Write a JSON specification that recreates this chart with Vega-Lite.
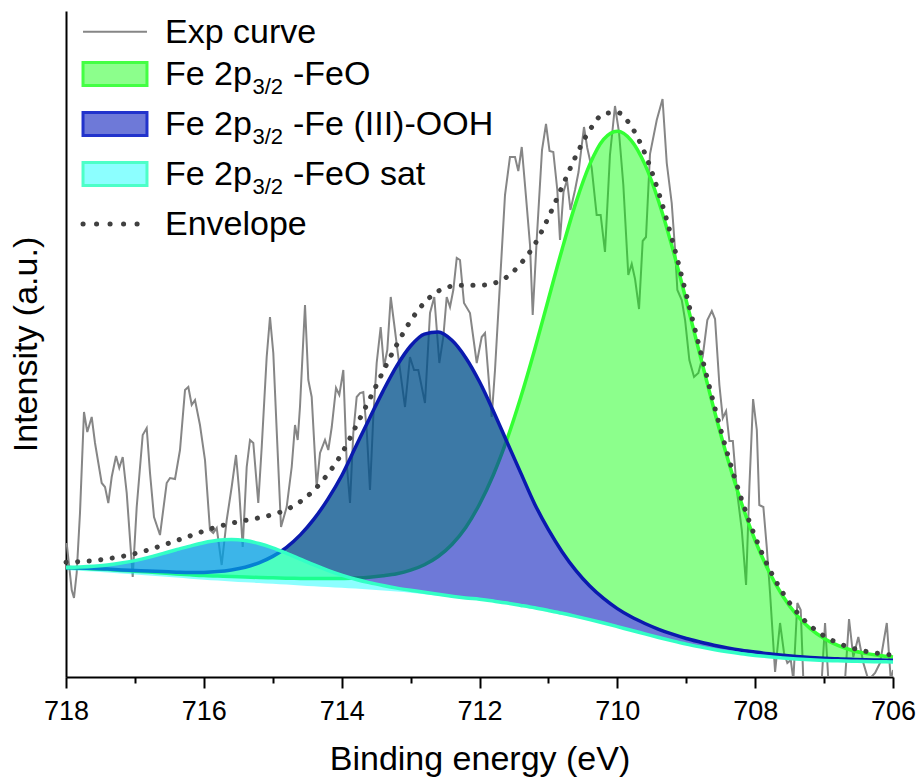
{
"$schema": "https://vega.github.io/schema/vega-lite/v6.json",
"width": 827, "height": 666,
"autosize": "none",
"padding": {"left": 66, "top": 11, "right": 26, "bottom": 106},
"background": "white",
"config": {"view": {"stroke": null}, "axis": {"labelFont": "Liberation Sans", "titleFont": "Liberation Sans", "labelColor": "black", "titleColor": "black", "domainColor": "black", "tickColor": "black", "titleFontWeight": "normal", "grid": false}, "text": {"font": "Liberation Sans"}},
"datasets": {
"exp": [
{"E":717.990,"h":134},{"E":717.917,"h":87},{"E":717.884,"h":79},{"E":717.845,"h":104},{"E":717.797,"h":164},{"E":717.739,"h":265},{"E":717.691,"h":245},{"E":717.627,"h":260},{"E":717.579,"h":234},{"E":717.482,"h":194},{"E":717.434,"h":190},{"E":717.386,"h":174},{"E":717.337,"h":200},{"E":717.274,"h":221},{"E":717.227,"h":209},{"E":717.177,"h":220},{"E":717.119,"h":184},{"E":717.032,"h":100},{"E":716.974,"h":170},{"E":716.887,"h":242},{"E":716.829,"h":249},{"E":716.781,"h":204},{"E":716.723,"h":160},{"E":716.636,"h":142},{"E":716.539,"h":194},{"E":716.491,"h":199},{"E":716.418,"h":198},{"E":716.346,"h":227},{"E":716.273,"h":287},{"E":716.225,"h":290},{"E":716.176,"h":272},{"E":716.128,"h":277},{"E":716.056,"h":252},{"E":715.983,"h":217},{"E":715.911,"h":147},{"E":715.863,"h":144},{"E":715.813,"h":149},{"E":715.741,"h":112},{"E":715.668,"h":157},{"E":715.596,"h":190},{"E":715.533,"h":222},{"E":715.485,"h":184},{"E":715.436,"h":130},{"E":715.378,"h":210},{"E":715.330,"h":237},{"E":715.282,"h":234},{"E":715.210,"h":174},{"E":715.160,"h":230},{"E":715.088,"h":320},{"E":715.040,"h":360},{"E":714.992,"h":324},{"E":714.943,"h":247},{"E":714.880,"h":150},{"E":714.798,"h":170},{"E":714.725,"h":210},{"E":714.677,"h":252},{"E":714.638,"h":237},{"E":714.605,"h":270},{"E":714.532,"h":372},{"E":714.484,"h":297},{"E":714.435,"h":280},{"E":714.363,"h":190},{"E":714.314,"h":224},{"E":714.242,"h":237},{"E":714.194,"h":227},{"E":714.144,"h":250},{"E":714.082,"h":289},{"E":714.034,"h":282},{"E":713.976,"h":307},{"E":713.927,"h":214},{"E":713.879,"h":174},{"E":713.831,"h":244},{"E":713.782,"h":280},{"E":713.734,"h":284},{"E":713.686,"h":285},{"E":713.637,"h":247},{"E":713.589,"h":187},{"E":713.541,"h":260},{"E":713.492,"h":314},{"E":713.434,"h":350},{"E":713.386,"h":310},{"E":713.338,"h":327},{"E":713.288,"h":380},{"E":713.240,"h":354},{"E":713.178,"h":320},{"E":713.081,"h":270},{"E":713.009,"h":320},{"E":712.950,"h":307},{"E":712.888,"h":307},{"E":712.791,"h":274},{"E":712.718,"h":364},{"E":712.656,"h":380},{"E":712.583,"h":314},{"E":712.525,"h":340},{"E":712.476,"h":380},{"E":712.428,"h":370},{"E":712.380,"h":387},{"E":712.330,"h":419},{"E":712.283,"h":417},{"E":712.225,"h":374},{"E":712.138,"h":364},{"E":712.040,"h":314},{"E":711.968,"h":340},{"E":711.920,"h":344},{"E":711.823,"h":260},{"E":711.775,"h":307},{"E":711.630,"h":482},{"E":711.558,"h":520},{"E":711.485,"h":520},{"E":711.437,"h":506},{"E":711.387,"h":530},{"E":711.325,"h":480},{"E":711.267,"h":432},{"E":711.228,"h":362},{"E":711.170,"h":437},{"E":711.093,"h":527},{"E":711.035,"h":553},{"E":710.984,"h":526},{"E":710.929,"h":525},{"E":710.871,"h":487},{"E":710.832,"h":437},{"E":710.781,"h":485},{"E":710.730,"h":497},{"E":710.680,"h":467},{"E":710.614,"h":487},{"E":710.563,"h":505},{"E":710.484,"h":550},{"E":710.436,"h":529},{"E":710.372,"h":509},{"E":710.300,"h":462},{"E":710.242,"h":462},{"E":710.179,"h":425},{"E":710.107,"h":522},{"E":710.034,"h":571},{"E":709.976,"h":545},{"E":709.913,"h":492},{"E":709.841,"h":402},{"E":709.791,"h":413},{"E":709.743,"h":398},{"E":709.685,"h":368},{"E":709.632,"h":436},{"E":709.584,"h":440},{"E":709.526,"h":523},{"E":709.428,"h":557},{"E":709.344,"h":578},{"E":709.283,"h":514},{"E":709.211,"h":474},{"E":709.162,"h":427},{"E":709.129,"h":387},{"E":709.065,"h":377},{"E":709.017,"h":357},{"E":708.955,"h":317},{"E":708.887,"h":300},{"E":708.824,"h":304},{"E":708.760,"h":321},{"E":708.694,"h":357},{"E":708.629,"h":366},{"E":708.582,"h":358},{"E":708.519,"h":292},{"E":708.470,"h":259},{"E":708.422,"h":266},{"E":708.374,"h":236},{"E":708.324,"h":236},{"E":708.266,"h":187},{"E":708.194,"h":147},{"E":708.132,"h":92},{"E":708.084,"h":190},{"E":708.030,"h":278},{"E":707.976,"h":247},{"E":707.940,"h":172},{"E":707.881,"h":170},{"E":707.832,"h":130},{"E":707.784,"h":84},{"E":707.711,"h":5},{"E":707.639,"h":54},{"E":707.581,"h":24},{"E":707.533,"h":14},{"E":707.483,"h":17},{"E":707.446,"h":-3},{"E":707.388,"h":74},{"E":707.339,"h":67},{"E":707.301,"h":-3},{"E":707.175,"h":-8},{"E":707.034,"h":-3},{"E":706.986,"h":54},{"E":706.938,"h":-3},{"E":706.826,"h":-8},{"E":706.696,"h":-3},{"E":706.638,"h":58},{"E":706.576,"h":20},{"E":706.503,"h":40},{"E":706.430,"h":14},{"E":706.357,"h":-3},{"E":706.260,"h":4},{"E":706.188,"h":14},{"E":706.090,"h":54},{"E":706.032,"h":-3},{"E":705.999,"h":7}
],
"fit": [
{"E":706.0,"bg":15.0,"feo":20.1,"ooh":16.7,"sat":15.1,"env":21.9},
{"E":706.2,"bg":15.1,"feo":21.5,"ooh":17.0,"sat":15.2,"env":23.5},
{"E":706.4,"bg":15.3,"feo":23.6,"ooh":17.3,"sat":15.4,"env":25.7},
{"E":706.6,"bg":15.6,"feo":26.8,"ooh":17.7,"sat":15.8,"env":29.1},
{"E":706.8,"bg":16.0,"feo":31.6,"ooh":18.2,"sat":16.2,"env":34.0},
{"E":707.0,"bg":16.4,"feo":38.5,"ooh":18.8,"sat":16.6,"env":41.1},
{"E":707.2,"bg":17.0,"feo":48.4,"ooh":19.6,"sat":17.2,"env":51.2},
{"E":707.4,"bg":17.8,"feo":62.2,"ooh":20.6,"sat":18.0,"env":65.2},
{"E":707.6,"bg":18.8,"feo":81.0,"ooh":21.8,"sat":19.0,"env":84.2},
{"E":707.8,"bg":20.0,"feo":105.5,"ooh":23.2,"sat":20.2,"env":108.9},
{"E":708.0,"bg":21.4,"feo":136.5,"ooh":24.9,"sat":21.6,"env":140.2},
{"E":708.2,"bg":23.0,"feo":174.2,"ooh":26.8,"sat":23.2,"env":178.2},
{"E":708.4,"bg":25.0,"feo":218.5,"ooh":29.1,"sat":25.2,"env":222.8},
{"E":708.6,"bg":27.2,"feo":268.3,"ooh":31.8,"sat":27.5,"env":273.2},
{"E":708.8,"bg":29.8,"feo":321.9,"ooh":35.0,"sat":30.1,"env":327.4},
{"E":709.0,"bg":32.6,"feo":376.4,"ooh":38.5,"sat":32.9,"env":382.6},
{"E":709.2,"bg":35.8,"feo":428.9,"ooh":42.8,"sat":36.1,"env":436.2},
{"E":709.4,"bg":39.2,"feo":475.5,"ooh":47.7,"sat":39.5,"env":484.3},
{"E":709.6,"bg":42.8,"feo":512.6,"ooh":53.5,"sat":43.1,"env":523.6},
{"E":709.8,"bg":46.4,"feo":536.7,"ooh":60.2,"sat":46.7,"env":550.8},
{"E":710.0,"bg":50.0,"feo":545.8,"ooh":68.4,"sat":50.4,"env":564.6},
{"E":710.2,"bg":53.6,"feo":537.6,"ooh":78.6,"sat":54.0,"env":563.0},
{"E":710.4,"bg":57.0,"feo":512.6,"ooh":91.0,"sat":57.4,"env":547.0},
{"E":710.6,"bg":60.2,"feo":474.6,"ooh":106.4,"sat":60.6,"env":521.2},
{"E":710.8,"bg":63.2,"feo":428.1,"ooh":125.1,"sat":63.7,"env":490.5},
{"E":711.0,"bg":66.0,"feo":377.8,"ooh":147.3,"sat":66.5,"env":459.6},
{"E":711.2,"bg":68.6,"feo":327.3,"ooh":173.1,"sat":69.2,"env":432.4},
{"E":711.4,"bg":71.0,"feo":280.0,"ooh":203.9,"sat":71.6,"env":413.5},
{"E":711.6,"bg":73.2,"feo":237.8,"ooh":234.9,"sat":73.9,"env":400.2},
{"E":711.8,"bg":75.2,"feo":202.0,"ooh":266.1,"sat":75.9,"env":393.6},
{"E":712.0,"bg":77.0,"feo":172.8,"ooh":295.2,"sat":77.8,"env":391.8},
{"E":712.2,"bg":78.0,"feo":149.5,"ooh":319.3,"sat":79.0,"env":391.8},
{"E":712.4,"bg":79.6,"feo":132.5,"ooh":336.7,"sat":80.8,"env":390.8},
{"E":712.6,"bg":81.2,"feo":120.5,"ooh":345.0,"sat":82.7,"env":385.8},
{"E":712.8,"bg":82.8,"feo":112.3,"ooh":342.9,"sat":84.7,"env":374.3},
{"E":713.0,"bg":84.2,"feo":106.8,"ooh":331.0,"sat":86.7,"env":356.1},
{"E":713.2,"bg":85.4,"feo":103.2,"ooh":311.1,"sat":88.9,"env":332.4},
{"E":713.4,"bg":86.6,"feo":101.2,"ooh":285.9,"sat":91.5,"env":305.4},
{"E":713.6,"bg":87.6,"feo":99.8,"ooh":258.1,"sat":94.4,"env":277.1},
{"E":713.8,"bg":88.4,"feo":99.0,"ooh":229.7,"sat":97.8,"env":249.7},
{"E":714.0,"bg":89.2,"feo":98.5,"ooh":201.3,"sat":101.9,"env":223.3},
{"E":714.2,"bg":90.0,"feo":98.4,"ooh":177.9,"sat":106.7,"env":203.0},
{"E":714.4,"bg":90.8,"feo":98.4,"ooh":158.1,"sat":112.1,"env":187.0},
{"E":714.6,"bg":91.6,"feo":98.6,"ooh":142.1,"sat":117.9,"env":175.4},
{"E":714.8,"bg":92.4,"feo":98.8,"ooh":129.7,"sat":123.7,"env":167.4},
{"E":715.0,"bg":93.2,"feo":99.2,"ooh":120.6,"sat":129.1,"env":162.5},
{"E":715.2,"bg":94.0,"feo":99.5,"ooh":114.2,"sat":133.5,"env":159.2},
{"E":715.4,"bg":94.8,"feo":100.0,"ooh":109.8,"sat":136.4,"env":156.6},
{"E":715.6,"bg":95.6,"feo":100.4,"ooh":107.1,"sat":137.5,"env":153.8},
{"E":715.8,"bg":96.4,"feo":100.9,"ooh":105.4,"sat":136.7,"env":150.2},
{"E":716.0,"bg":97.2,"feo":101.4,"ooh":104.6,"sat":134.3,"env":145.9},
{"E":716.2,"bg":98.2,"feo":102.2,"ooh":104.4,"sat":130.9,"env":141.1},
{"E":716.4,"bg":99.4,"feo":103.1,"ooh":104.8,"sat":127.2,"env":136.3},
{"E":716.6,"bg":100.6,"feo":104.1,"ooh":105.4,"sat":123.4,"env":131.7},
{"E":716.8,"bg":101.6,"feo":104.9,"ooh":105.9,"sat":119.6,"env":127.2},
{"E":717.0,"bg":102.6,"feo":105.7,"ooh":106.5,"sat":116.4,"env":123.4},
{"E":717.2,"bg":103.6,"feo":106.6,"ooh":107.1,"sat":113.9,"env":120.4},
{"E":717.4,"bg":104.6,"feo":107.4,"ooh":107.9,"sat":112.1,"env":118.2},
{"E":717.6,"bg":105.4,"feo":108.1,"ooh":108.4,"sat":110.8,"env":116.5},
{"E":717.8,"bg":106.2,"feo":108.7,"ooh":109.0,"sat":110.1,"env":115.4},
{"E":718.0,"bg":107.0,"feo":109.4,"ooh":109.6,"sat":109.8,"env":114.8}
]
},
"layer": [
{"data": {"name": "exp"}, "mark": {"type": "line", "color": "#868686", "strokeWidth": 2, "clip": true},
 "encoding": {
  "x": {"field": "E", "type": "quantitative", "scale": {"domain": [706, 718], "reverse": true, "nice": false, "zero": false},
        "axis": {"title": "Binding energy (eV)", "values": [718,717,716,715,714,713,712,711,710,709,708,707,706], "format": "d",
                 "labelExpr": "datum.value % 2 == 0 ? datum.label : ''",
                 "tickSize": {"condition": {"test": "datum.value % 2 == 0", "value": 11}, "value": 6},
                 "tickWidth": 2, "domainWidth": 2, "labelFontSize": 27, "labelPadding": 10, "labelFlush": false, "labelOverlap": false,
                 "titleFontSize": 34, "titlePadding": 18}},
  "y": {"field": "h", "type": "quantitative", "scale": {"domain": [0, 666], "nice": false, "zero": false},
        "axis": {"title": "Intensity (a.u.)", "ticks": false, "labels": false, "domainWidth": 2, "titleFontSize": 34, "titlePadding": 23}}
 }},
{"data": {"name": "fit"}, "mark": {"type": "area", "interpolate": "monotone", "color": "#00ff00", "fillOpacity": 0.45},
 "encoding": {"x": {"field": "E", "type": "quantitative"}, "y": {"field": "feo", "type": "quantitative"}, "y2": {"field": "ooh"}}},
{"data": {"name": "fit"}, "mark": {"type": "line", "interpolate": "monotone", "color": "#33ff33", "strokeWidth": 3.5},
 "encoding": {"x": {"field": "E", "type": "quantitative"}, "y": {"field": "feo", "type": "quantitative"}}},
{"data": {"name": "fit"}, "mark": {"type": "area", "interpolate": "monotone", "color": "#0014ba", "fillOpacity": 0.57},
 "encoding": {"x": {"field": "E", "type": "quantitative"}, "y": {"field": "ooh", "type": "quantitative"}, "y2": {"field": "sat"}}},
{"data": {"name": "fit"}, "mark": {"type": "line", "interpolate": "monotone", "color": "#0a1aae", "strokeWidth": 3.5},
 "encoding": {"x": {"field": "E", "type": "quantitative"}, "y": {"field": "ooh", "type": "quantitative"}}},
{"data": {"name": "fit"}, "mark": {"type": "area", "interpolate": "monotone", "color": "#00ffff", "fillOpacity": 0.45},
 "encoding": {"x": {"field": "E", "type": "quantitative"}, "y": {"field": "sat", "type": "quantitative"}, "y2": {"field": "bg"}}},
{"data": {"name": "fit"}, "mark": {"type": "line", "interpolate": "monotone", "color": "#33ffc6", "strokeWidth": 3.5},
 "encoding": {"x": {"field": "E", "type": "quantitative"}, "y": {"field": "sat", "type": "quantitative"}}},
{"data": {"name": "fit"}, "mark": {"type": "line", "interpolate": "monotone", "color": "#404040", "strokeWidth": 5, "strokeCap": "round", "strokeDash": [0.1, 11.5]},
 "encoding": {"x": {"field": "E", "type": "quantitative"}, "y": {"field": "env", "type": "quantitative"}}},

{"data": {"values": [{}]}, "mark": {"type": "rule", "color": "#868686", "strokeWidth": 2},
 "encoding": {"x": {"datum": 717.753}, "x2": {"datum": 716.825}, "y": {"datum": 645.3}}},
{"data": {"values": [{}]}, "mark": {"type": "text", "text": "Exp curve", "align": "left", "baseline": "alphabetic", "fontSize": 34, "color": "black"},
 "encoding": {"x": {"datum": 716.5636}, "y": {"datum": 633.7}}},

{"data": {"values": [{}]}, "mark": {"type": "rect", "fill": "#00ff00", "fillOpacity": 0.45, "stroke": "#44ff44", "strokeWidth": 3},
 "encoding": {"x": {"datum": 717.753}, "x2": {"datum": 716.825}, "y": {"datum": 614.5}, "y2": {"datum": 591.5}}},
{"data": {"values": [{}]}, "mark": {"type": "text", "text": "Fe 2p", "align": "left", "baseline": "alphabetic", "fontSize": 34, "color": "black"},
 "encoding": {"x": {"datum": 716.5636}, "y": {"datum": 592}}},
{"data": {"values": [{}]}, "mark": {"type": "text", "text": "3/2", "align": "left", "baseline": "alphabetic", "fontSize": 22, "color": "black"},
 "encoding": {"x": {"datum": 715.294}, "y": {"datum": 583}}},
{"data": {"values": [{}]}, "mark": {"type": "text", "text": "-FeO", "align": "left", "baseline": "alphabetic", "fontSize": 34, "color": "black"},
 "encoding": {"x": {"datum": 714.706}, "y": {"datum": 592}}},

{"data": {"values": [{}]}, "mark": {"type": "rect", "fill": "#0014ba", "fillOpacity": 0.57, "stroke": "#2233cc", "strokeWidth": 3},
 "encoding": {"x": {"datum": 717.753}, "x2": {"datum": 716.825}, "y": {"datum": 564.5}, "y2": {"datum": 541.5}}},
{"data": {"values": [{}]}, "mark": {"type": "text", "text": "Fe 2p", "align": "left", "baseline": "alphabetic", "fontSize": 34, "color": "black"},
 "encoding": {"x": {"datum": 716.5636}, "y": {"datum": 542}}},
{"data": {"values": [{}]}, "mark": {"type": "text", "text": "3/2", "align": "left", "baseline": "alphabetic", "fontSize": 22, "color": "black"},
 "encoding": {"x": {"datum": 715.294}, "y": {"datum": 533}}},
{"data": {"values": [{}]}, "mark": {"type": "text", "text": "-Fe (III)-OOH", "align": "left", "baseline": "alphabetic", "fontSize": 34, "color": "black"},
 "encoding": {"x": {"datum": 714.706}, "y": {"datum": 542}}},

{"data": {"values": [{}]}, "mark": {"type": "rect", "fill": "#00ffff", "fillOpacity": 0.45, "stroke": "#4dffc8", "strokeWidth": 3},
 "encoding": {"x": {"datum": 717.753}, "x2": {"datum": 716.825}, "y": {"datum": 514.5}, "y2": {"datum": 491.5}}},
{"data": {"values": [{}]}, "mark": {"type": "text", "text": "Fe 2p", "align": "left", "baseline": "alphabetic", "fontSize": 34, "color": "black"},
 "encoding": {"x": {"datum": 716.5636}, "y": {"datum": 492}}},
{"data": {"values": [{}]}, "mark": {"type": "text", "text": "3/2", "align": "left", "baseline": "alphabetic", "fontSize": 22, "color": "black"},
 "encoding": {"x": {"datum": 715.294}, "y": {"datum": 483}}},
{"data": {"values": [{}]}, "mark": {"type": "text", "text": "-FeO sat", "align": "left", "baseline": "alphabetic", "fontSize": 34, "color": "black"},
 "encoding": {"x": {"datum": 714.706}, "y": {"datum": 492}}},

{"data": {"values": [{}]}, "mark": {"type": "rule", "color": "#404040", "strokeWidth": 5, "strokeCap": "round", "strokeDash": [0.1, 13.4]},
 "encoding": {"x": {"datum": 717.753}, "x2": {"datum": 716.955}, "y": {"datum": 453}}},
{"data": {"values": [{}]}, "mark": {"type": "text", "text": "Envelope", "align": "left", "baseline": "alphabetic", "fontSize": 34, "color": "black"},
 "encoding": {"x": {"datum": 716.5636}, "y": {"datum": 442}}}
]
}
